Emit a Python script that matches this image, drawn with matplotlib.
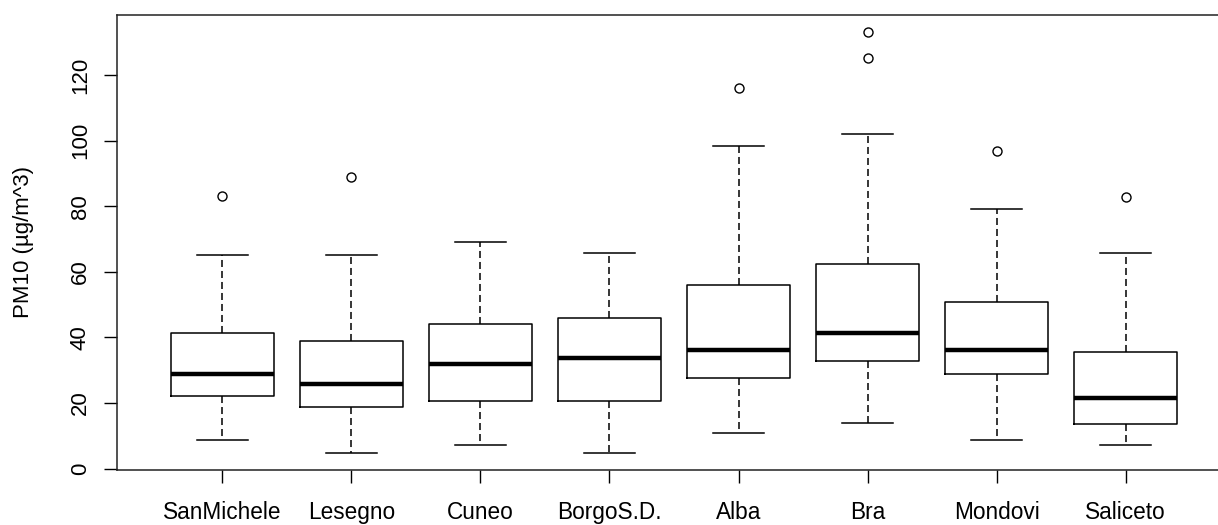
import numpy as np
import matplotlib
matplotlib.use("Agg")
import matplotlib.pyplot as plt

plt.rcParams['font.family'] = ['Liberation Sans', 'DejaVu Sans']

stations = ["SanMichele", "Lesegno", "Cuneo", "BorgoS.D.", "Alba", "Bra", "Mondovi", "Saliceto"]
whisker_low = [8.8, 4.9, 7.1, 4.9, 11.0, 14.0, 8.8, 7.1]
q1 = [22.2, 18.8, 20.5, 20.5, 27.6, 32.8, 28.9, 13.6]
median = [28.9, 25.7, 32.0, 33.6, 36.3, 41.5, 36.3, 21.5]
q3 = [41.5, 38.9, 44.2, 45.8, 55.9, 62.5, 50.7, 35.5]
whisker_high = [65.0, 65.0, 69.0, 65.8, 98.3, 102.1, 79.1, 65.8]
outliers = [[83.0], [89.0], [], [], [116.0], [125.2, 133.0], [96.8], [82.9]]

stats = []
for i, name in enumerate(stations):
    stats.append({
        "label": name,
        "whislo": whisker_low[i],
        "q1": q1[i],
        "med": median[i],
        "q3": q3[i],
        "whishi": whisker_high[i],
        "fliers": outliers[i],
    })

fig = plt.figure(figsize=(12.18, 5.25), dpi=100)
# the right side of the frame is cropped off in the original
ax = fig.add_axes([116.5 / 1218, 1 - 470 / 525, (1231.5 - 116.5) / 1218, (470 - 15) / 525])

lw = 1.1
ax.bxp(stats, positions=np.arange(1, 9), widths=0.8,
       boxprops=dict(color="black", linewidth=lw),
       medianprops=dict(color="black", linewidth=3.2, solid_capstyle="butt"),
       whiskerprops=dict(color="black", linewidth=lw, linestyle=(0, (4.6, 2.6))),
       capprops=dict(color="black", linewidth=lw),
       capwidths=0.4,
       flierprops=dict(marker="o", markerfacecolor="none", markeredgecolor="black",
                       markersize=6.5, markeredgewidth=1.0))

ax.set_xlim(0.18, 8.82)
ax.set_ylim(-0.4, 138.3)
ax.set_yticks(np.arange(0, 121, 20))
ax.set_xticks(np.arange(1, 9))
ax.set_xticklabels(stations, fontsize=16.3)
for lab in ax.get_yticklabels():
    lab.set_rotation(90)
    lab.set_va("center")
ax.tick_params(axis="y", labelsize=16, length=9.5, width=1, pad=9)
ax.tick_params(axis="x", length=9.5, width=1, pad=13)
ax.set_ylabel("PM10 (µg/m^3)", fontsize=16)
ax.yaxis.set_label_coords((34 - 116.5) / 1115, 0.5)

for s in ax.spines.values():
    s.set_linewidth(1.1)
    s.set_color("#222222")

fig.savefig("out.png", dpi=100)
